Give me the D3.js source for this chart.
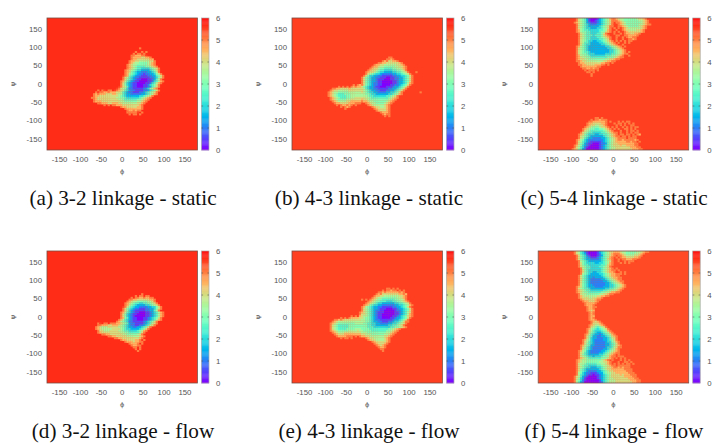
<!DOCTYPE html>
<html>
<head>
<meta charset="utf-8">
<script src="https://cdn.jsdelivr.net/npm/d3@7"></script>
<style>
  html, body { margin: 0; padding: 0; background: #fff; }
  .tick-label { font-family: "Liberation Sans", Arial, sans-serif; font-size: 7.8px; fill: #555; }
  .axis-name { font-family: "DejaVu Sans", sans-serif; font-size: 6.5px; fill: #555; }
  .caption { font-family: "Liberation Serif", "Times New Roman", serif; font-size: 21.2px; fill: #111; }
</style>
</head>
<body>
<svg id="chart" width="713" height="443"></svg>
<script>
'use strict';

var captions = [
  '(a) 3-2 linkage - static', '(b) 4-3 linkage - static', '(c) 5-4 linkage - static',
  '(d) 3-2 linkage - flow', '(e) 4-3 linkage - flow', '(f) 5-4 linkage - flow'
];
var phiTicks = [-150, -100, -50, 0, 50, 100, 150];
var psiTicks = [-150, -100, -50, 0, 50, 100, 150];
var barTicks = [0, 1, 2, 3, 4, 5, 6];

// free energy of the empty part of each map
var backgrounds = [5.66, 5.54, 5.52, 5.66, 5.52, 5.44];

// rows are "psi phi codes": first cell of the row, then one code per 5 degree cell.
// code 0-9,a,b = value * 2, '.' = empty cell. a psi can have more than one row
var gridA = [
  '95 40 a', '85 30 a..a.a', '80 25 a.aaba', '75 20 aa999aab', '70 20 a99998899a', '65 20 a9988888899',
  '60 15 a99887777788a', '55 15 a98776666789a', '50 10 a987766666789a', '45 10 a9876555566789a',
  '40 10 a98765544445678a', '35 5 a987654433334568a', '30 5 a986543322233457a', '25 5 a9765432212233468a',
  '20 0 ba96543221112233568a', '15 0 a875432211111223468a', '10 0 a86543211000112357a',
  '5 -5 a9754321100001124579a', '0 -5 a864321100001124579a', '-5 -5 a86432110001124568a',
  '-10 -10 ba87532110001123568a', '-15 -15 ba87642211111234679a',
  '-20 -60 a.ab.aa.b', '-20 -15 a987543221111223 4568a',
  '-25 -65 abaa99a999', '-25 -15 88754322111223456 78a',
  '-30 -70 a9a99988899', '-30 -15 87754332222233456 79a',
  '-35 -70 a9988888888', '-35 -15 8765433333344 5678a',
  '-40 -75 aa9888888888', '-40 -15 77665444444 56789a',
  '-45 -70 a9888888888', '-45 -15 877655555566789a',
  '-50 -70 a9998888888', '-50 -15 887766666677 89a',
  '-55 -60 aa9998899', '-55 -15 98877777778 89a',
  '-60 -45 a.a.aa9', '-60 -10 9988888888 9a', '-65 -5 a998888899a', '-70 5 a9999999a', '-75 10 a99a9aa', '-80 10 aaaaab.a', '-85 15 a.aa.a'
];

var gridB = [
  '70 50 aa', '65 45 aa9ab', '60 35 a9a8899a', '55 25 aa998888889a',
  '50 15 a9988777777889a', '45 10 a998776666677889a', '40 5 a9887665555667789a',
  '35 0 a9887655444455667 8a', '30 -5 a98876544333344556 78a', '25 -5 a8765443222223344 5678a',
  '20 -10 a86443322111112233 44568a', '15 -15 a8654332211100112233 4568a', '10 -15 a865433211100011223 34568a',
  '5 -15 a86543321100000112334568a', '0 -15 a86543221100000112334579a', '-5 -15 a8654322110000112234568a',
  '-5 -35 a.a9a', '-10 -70 a.aba.a9a99', '-10 -15 8654332110001112334568a',
  '-15 -85 aa998888988888', '-15 -15 87543322111112233 4568a',
  '-20 -90 a98877777888888', '-20 -15 876543322111223345 68a',
  '-25 -95 a987766666777777', '-25 -15 87654433222233445 68a',
  '-30 -95 a987655566677777', '-30 -15 77665443333334456 79a',
  '-35 -95 a987655556677777', '-35 -15 7776554444445567 8a',
  '-40 -90 a98765556677888', '-40 -15 8877655555555 6789a',
  '-45 -90 a98766667788888', '-45 -15 98876666666667 89a',
  '-50 -85 a9877778899999', '-50 -15 a9987766666678 9a',
  '-55 -80 a998888999aaa', '-55 -5 a98776666789a',
  '-60 -75 a.a99a9a.a', '-60 0 a98777778 9a',
  '-65 -65 a.a9a', '-65 10 a98877 89a', '-70 -55 a', '-70 15 a988889a',
  '-75 20 a988 89a', '-80 30 a999a', '-85 35 a9aa', '-90 40 a.a',
  '30 115 a', '-25 125 a'
];

var gridC = [
  '175 -95 ba87653100013456 78', '170 -95 ba8765310012 345678', '165 -95 a98765321112 345678',
  '160 -90 a8765432223345678a', '155 -90 a876543333345678a', '150 -90 a876544333445678a',
  '145 -90 a97655444445567 9a', '140 -90 a976655444456689a',
  '135 -85 a876 5 5 4 4 4 5 5 6 8a', '130 -85 a87 6 5 5 5 4 5 5 5 6 8 9a',
  '125 -85 a87 6 5 5 4 4 4 5 5 6 7 8 9 a', '120 -85 a8 7 6 5 5 4 4 4 4 5 5 6 7 8 a',
  '115 -85 a8 7 6 5 4 4 3 3 4 4 5 6 7 8 9 a', '110 -85 a8 7 5 5 4 3 3 3 3 4 4 5 6 7 8 9a',
  '105 -85 a8 6 5 4 4 3 3 3 3 3 4 4 5 6 7 8 9 a.ba', '100 -90 a9 7 6 5 4 3 3 3 3 3 3 3 3 4 4 5 6 7 8 9 a.a',
  '175 -10 9aa98776666667 889ab', '170 -5 aaa987666666677 89ab', '165 -5 a.aa9876666666789ab',
  '160 -5 ab.a9876666667789aa', '155 -5 a.baa98766666789a', '150 0 a.aba9877777789a',
  '145 0 .ab.a98877788 9a', '140 0 a.a.ba98888889a', '135 0 ab.a.a99889 9a',
  '130 0 .aa.baa9999a', '125 5 a.ba.a99aa', '120 5 ab.a.baa9a', '115 5 a.a.a.aa', '110 5 .ab.a.a',
  '95 -90 a8 7 6 5 4 3 3 3 3 3 3 3 3 3 4 4 5 6 7 8 9 a', '90 -90 a8 7 6 5 4 3 3 3 3 3 3 3 3 3 3 4 4 5 6 7 8 9 a',
  '85 -90 a8 7 6 5 5 4 3 3 3 3 3 3 3 3 3 4 4 5 6 7 8 9 a.a', '80 -90 a8 7 6 6 5 4 4 4 3 3 3 3 3 4 4 4 5 5 6 7 8 9 a a',
  '75 -90 a9 7 7 6 6 5 4 4 4 4 4 4 4 5 5 5 6 6 7 8 9 a b.a', '70 -90 a9 8 7 7 6 6 5 5 5 5 5 5 5 5 6 6 6 7 8 9 a a',
  '65 -90 a9 8 8 7 7 6 6 6 6 6 6 6 6 7 7 8 8 9 a a.b', '60 -90 aa9 8 8 7 7 7 7 7 7 7 7 8 8 9 9 a a.b',
  '55 -85 a9 9 8 8 8 8 8 8 8 8 9 9 a a.a', '50 -85 aa9 9 8 8 8 8 9 9 9 a a.a',
  '45 -80 a9 9 9 9 9 9 9 a a.b', '40 -75 aa9 9 a 9 a a', '35 -70 a.aa a.a',
  '30 -65 a a.a', '25 -55 a', '20 -55 a',
  '-95 -45 aa.a', '-100 -55 a.aa9aaa', '-105 -60 aa999999a.a', '-105 10 a.a.aa', '-110 -65 a9988 8899a.', '-110 0 a.aa.a.a.a',
  '-115 -65 a988 7 7 8 8 9 a', '-115 5 a.a.ab.aa', '-120 -70 a98 7 6 6 6 7 8 8 9 a', '-120 -5 a.a.ba.a.a.aa', '-125 -75 a98 7 6 6 5 5 6 6 7 8 9 a.a.ab.aa.a.ab',
  '-130 -75 a8 7 6 5 5 5 5 5 5 6 7 8 9 a.b.a.ba.aa.a', '-135 -80 a8 7 6 5 5 4 4 4 4 5 5 6 7 8 9 a a.ab.a.a.aa', '-140 -85 a9 8 6 5 4 4 4 3 3 4 4 5 5 6 7 8 9 a.aa.aa.a.a9',
  '-145 -85 a8 7 6 5 4 3 3 3 3 3 3 4 5 6 7 8 9 a a.a a.a.a a', '-150 -85 a8 7 5 4 3 3 2 2 2 2 3 3 4 5 6 7 8 9 a a a a.a a a a',
  '-155 -90 a9 7 6 4 3 2 2 2 2 2 2 2 3 4 5 6 7 8 9 a a 9 a a a a a 9 a', '-160 -90 a8 7 5 4 3 2 1 1 1 1 1 2 3 4 5 6 7 8 9 9 9 9 9 a a 9 a a.a',
  '-165 -90 a8 6 5 3 2 1 1 0 0 0 1 2 2 3 5 6 7 8 8 9 9 9 9 9 9 9 9 a a b', '-170 -95 a9 7 6 4 3 2 1 0 0 0 0 1 2 3 4 5 6 7 8 8 8 9 8 8 9 9 9 9 a a b',
  '-175 -95 a8 7 5 4 2 1 0 0 0 0 0 1 2 3 4 5 6 7 7 8 8 8 8 8 8 8 9 9 9 a a', '-180 -100 a9 8 6 5 3 2 0 0 0 0 0 0 1 2 3 4 5 6 7 7 8 8 8 8 8 8 8 8 9 9 9 a a b'
];

var gridD = [
  '60 45 a', '55 30 a.aa.aa', '50 20 a.aa99a99aa', '45 15 aa9988888 899a', '40 10 a987766666778a',
  '35 5 a9876554455 6678a', '30 5 a976543333 445 678a', '25 0 ba865433222 23344 6 8a',
  '20 0 a86543221112 2334 6 8a', '15 0 a8643211111 2233 5 7a', '10 -5 a97543211000 11234 5 7 9a',
  '5 -5 a86432110000 1123 4 5 7 9a', '0 -5 a86432100000 1123 4 5 7 9a', '-5 -5 a9653211000 11234 5 6 8a',
  '-10 -10 a97543 2 1 1 0 0 0 1 1 2 3 4 5 7 9 a', '-15 -15 a976 5 4 2 2 1 1 1 1 1 2 3 4 5 6 8 a',
  '-20 -60 ab.aa.aaa99 8 7 6 5 3 2 2 1 1 1 1 2 3 4 5 7 8 a', '-25 -60 aa99988999 8 7 6 5 4 3 2 2 1 1 2 2 3 4 5 7 8 a',
  '-30 -65 a9877788 8 8 8 7 7 6 5 4 3 3 2 2 3 3 4 5 6 8 a', '-35 -65 a9877777 8 8 8 8 7 6 5 4 4 3 3 3 3 4 5 6 8 a',
  '-40 -60 a8877788 8 8 7 7 6 5 5 4 4 4 4 5 6 7 9 a', '-45 -60 a9888888 8 8 8 7 7 6 6 5 5 5 5 5 6 8 a',
  '-50 -50 aa9 9 8 8 8 8 8 8 7 7 6 6 6 6 6 7 8 a', '-55 -35 aa9 9 8 8 8 8 8 7 7 7 7 7 7 8 9 a',
  '-60 -20 aa9 9 8 8 8 8 8 8 8 8 9 a', '-65 -5 a9 9 8 8 8 8 9 9 a.a', '-70 5 a9 9 9 8 9 9 a a',
  '-75 15 a9 9 9 a.a', '-80 20 a9 9 a a', '-85 25 a a.a', '-90 30 a.a', '-95 35 a'
];

var gridE = [
  '75 45 aa.a.a', '70 35 a.aa9aa.a.a', '65 25 aa9a999999a9a', '60 20 a9a8888888899a9',
  '55 15 a99887777777889a', '50 10 a98776666666778 9a', '45 5 a9876655555566778a', '45 -15 a.a',
  '40 0 a987665554445566789a', '35 -5 a98765443333334455678a', '30 -10 a98654433222222334 4567 9a',
  '25 -15 a97654332211111223345 68a', '20 -15 a87654332111000112334 568a', '15 -15 a8765432211000001223 4568a',
  '10 -20 a98765432111000001123 4578a', '5 -20 a88765432110000001123 4579a', '0 -40 a.a.a9', '0 -20 98776543211000001123 45689a',
  '-5 -65 a.aba9999', '-5 -20 88766543211000011233 4568a',
  '-10 -80 aa9a98888888', '-10 -20 877665432211111123 34568a',
  '-15 -85 a987777777777', '-15 -20 7776654332211122344 568aa',
  '-20 -90 a9876666666677', '-20 -20 7766554433222233445 678a',
  '-25 -90 a8765555566666', '-25 -20 6666554433333344556 78a',
  '-30 -90 a8765555566666', '-30 -20 666655544444444 55667 89a',
  '-35 -90 a8765555666677', '-35 -20 76666555555555667 89a',
  '-40 -90 a9876666677778', '-40 -20 77666655555556678 9a',
  '-45 -85 a987778888888', '-45 -20 877766666666 67789a',
  '-50 -80 a98889999999', '-50 -20 98877766666677 89a',
  '-55 -75 a9999aaa.a.a', '-55 -15 998877777778 89a',
  '-60 -65 a.aa.a', '-60 -5 a98877777 89a', '-65 0 a9887777 89a', '-70 10 a988888 9a',
  '-75 15 a98889a', '-80 20 a989a', '-85 25 a99a', '-90 30 aa', '-95 35 a'
];

var gridF = [
  '175 -95 a8 7 5 4 2 1 0 0 0 0 1 3 4 5 6 7 8 8 9 9 9 8 7 7 6 6 6 6 6 7 7 8 9 a a',
  '170 -95 a8 7 5 4 3 1 0 0 0 0 1 2 4 5 6 7 8 9 a a a 9 8 7 6 6 6 6 7 7 8 9 a',
  '165 -90 a8 6 5 4 2 1 0 0 0 1 2 3 5 6 7 8 9 a.a a 9 8 7 7 7 7 8 8 9 a b',
  '160 -90 a8 6 5 4 3 2 1 1 1 2 3 4 5 6 7 9 a.a.a 9 9 8 8 8 8 9 9 a',
  '155 -90 a8 6 5 4 3 3 2 2 2 2 3 4 5 6 8 9 a..a.a a 9 9 9 a a',
  '150 -85 a7 6 5 4 3 3 3 3 3 3 4 5 6 7 8 a..ab.a.a a a b',
  '145 -85 a8 6 5 4 4 4 4 3 3 4 4 5 6 7 9 a...a.a.a',
  '140 -85 a8 6 5 5 4 4 4 4 4 4 5 5 6 8 9 a',
  '135 -85 a8 7 6 5 5 4 4 4 4 5 5 6 7 8 a',
  '130 -80 a7 6 5 5 4 4 4 4 4 5 6 7 8 9 a.a',
  '125 -80 a8 6 5 4 4 4 4 4 4 5 6 7 8 9 a a.a',
  '120 -80 a8 6 5 4 4 3 3 4 4 5 6 7 8 9 9 a b.a.a',
  '115 -80 a7 6 5 4 3 3 3 3 4 4 5 6 7 8 9 9 a a a.a',
  '110 -85 a8 6 5 4 3 3 3 3 3 3 4 5 6 7 8 9 9 a a',
  '105 -85 a8 6 5 4 3 3 2 3 3 3 3 4 5 6 7 8 9 9 a a',
  '100 -85 a8 6 5 4 3 2 2 2 2 2 3 3 4 5 6 7 8 9 a a',
  '95 -85 a8 6 5 4 3 2 2 2 2 2 2 3 3 4 5 6 7 8 9 a a',
  '90 -85 a8 6 5 4 3 2 2 2 2 2 2 2 3 3 4 5 6 7 8 9 a',
  '85 -85 a8 6 5 4 3 3 2 2 2 2 2 2 3 3 4 4 5 6 7 8 9 a',
  '80 -90 a9 8 6 5 4 3 3 3 2 2 2 2 3 3 3 4 4 5 6 7 8 9 a',
  '75 -90 a8 7 6 5 5 4 3 3 3 3 3 3 3 4 4 5 5 6 7 8 9 a',
  '70 -90 a9 8 7 6 5 5 4 4 4 4 4 4 5 5 6 6 7 7 8 9 a',
  '65 -90 a9 8 7 6 6 5 5 5 5 5 5 6 6 7 7 8 9 9 a a',
  '60 -85 a8 7 7 6 6 6 6 6 6 7 7 8 8 9 a a',
  '55 -85 a9 8 7 7 7 7 7 7 8 8 9 9 a a',
  '50 -85 a9 8 8 8 7 7 8 8 9 9 a',
  '45 -80 a9 8 8 8 8 8 9 a a',
  '40 -75 a9 9 8 8 8 9 a',
  '35 -70 a9 9 9 9 a',
  '30 -70 a9 9 9 a',
  '25 -65 a9 9 a a',
  '20 -65 a9 9 a',
  '15 -65 a9 8 9',
  '10 -60 a9 a',
  '5 -60 a9 a',
  '0 -60 a9 9',
  '-5 -60 a9 a',
  '-10 -60 a9 9 a',
  '-15 -55 a9 8 9 a',
  '-20 -55 a8 8 8 9 a',
  '-25 -60 a9 8 7 7 8 9 a',
  '-30 -60 a8 7 6 5 6 7 8 a',
  '-35 -65 a9 7 6 5 4 5 6 7 8 a',
  '-40 -65 a8 7 5 4 4 4 5 6 7 9 a',
  '-45 -65 a8 6 5 4 3 3 4 5 6 7 9 a',
  '-50 -70 a9 7 5 4 3 3 2 3 4 5 6 7 9 a',
  '-55 -70 a8 6 5 3 3 2 2 3 3 4 5 6 8 9 a',
  '-60 -70 a8 6 4 3 3 2 2 2 3 3 4 5 7 8 a',
  '-65 -75 a9 7 6 4 3 2 2 2 2 3 3 4 5 6 8 a',
  '-70 -75 a8 7 5 4 3 2 2 2 2 2 3 4 4 6 7 9 a',
  '-75 -75 a8 6 5 4 3 2 2 2 2 2 3 3 4 5 6 8 a',
  '-80 -80 a9 7 6 5 3 3 2 2 2 2 2 3 3 4 5 6 8 9 a',
  '-85 -80 a8 7 5 4 3 2 2 2 2 2 2 3 4 4 5 7 8 a a',
  '-90 -80 a8 6 5 4 3 2 2 2 2 2 3 3 4 5 6 7 9 a',
  '-95 -85 a9 7 6 4 3 2 2 2 2 2 3 3 4 5 6 7 8 9 a',
  '-100 -85 a8 7 5 4 3 2 2 2 2 3 3 4 5 6 7 8 9 a a',
  '-105 -85 a8 6 5 4 3 3 3 3 3 4 4 5 6 7 8 9 a.a',
  '-110 -85 a8 7 6 5 4 4 3 4 4 4 5 6 6 7 9 a a.a a a',
  '-115 -85 a9 8 7 6 5 5 5 5 5 5 6 6 7 8 9 a.a b a.a',
  '-120 -90 a9 8 7 7 6 6 6 6 6 6 6 7 8 9 a.a.b.a.a.a',
  '-125 -90 a9 8 7 7 6 6 6 6 6 6 7 7 8 8 9 a.b.a b.a a.a',
  '-130 -90 a8 7 7 6 5 5 5 5 5 6 6 7 7 8 9 a.a.a.a.a a.a',
  '-135 -90 a8 7 6 5 5 4 4 4 4 5 5 6 7 7 8 9 a a.a a a a a a',
  '-140 -90 a8 7 6 5 4 4 3 3 3 4 4 5 6 7 8 8 9 a a 9 a 9 a a a',
  '-145 -90 a8 6 5 4 3 3 3 3 3 3 4 5 6 7 8 8 9 9 9 9 9 9 a a a a',
  '-150 -90 a8 6 5 4 3 2 2 2 2 3 3 4 5 6 7 8 8 9 9 9 9 9 9 a a a',
  '-155 -90 a7 6 4 3 2 2 1 1 1 2 3 3 5 6 7 7 8 8 9 9 9 9 9 9 a a a',
  '-160 -90 a7 5 4 3 2 1 1 0 1 1 2 3 4 5 6 7 8 8 8 8 9 8 9 9 9 a a a',
  '-165 -95 a8 7 5 3 2 1 0 0 0 0 1 2 3 4 5 6 7 8 8 8 8 8 8 9 9 9 9 a a',
  '-170 -95 a8 6 4 3 1 0 0 0 0 0 1 2 3 4 5 6 7 7 8 8 8 8 8 8 8 9 9 9 a a',
  '-175 -95 a7 6 4 2 1 0 0 0 0 0 0 1 3 4 5 6 7 7 7 8 8 8 8 8 8 8 9 9 9 a a',
  '-180 -95 a7 5 3 2 0 0 0 0 0 0 0 1 2 4 5 6 7 7 7 8 8 8 8 8 8 8 8 9 9 a a'
];

var grids = [gridA, gridB, gridC, gridD, gridE, gridF];

var cellStep = 5;
var panelW = 150.5, panelH = 132;
var lefts = [47, 292, 538.2];
var tops = [18, 251];
var captionX = [123, 369, 614];
var captionY = [205, 438];

// same formula as gnuplot's default rainbow palette (33,13,10)
function rainbow(v) {
  var t = Math.max(0, Math.min(1, v / 6));
  return d3.rgb(
    Math.min(255, 255 * Math.abs(2 * t - 0.5)),
    255 * Math.sin(Math.PI * t),
    255 * Math.cos(Math.PI * t / 2)
  ).formatRgb();
}

function parseRows(rows) {
  var cells = [];
  rows.forEach(function(row) {
    var parts = row.split(' ');
    var psi = +parts[0], phi = +parts[1], codes = parts.slice(2).join('');
    codes.split('').forEach(function(c, i) {
      if (c === '.') return;
      cells.push({ phi: phi + i * cellStep, psi: psi, value: parseInt(c, 16) / 2 });
    });
  });
  return cells;
}

var svg = d3.select('#chart');
var defs = svg.append('defs');
defs.append('filter').attr('id', 'soft')
  .attr('x', '-5%').attr('y', '-5%').attr('width', '110%').attr('height', '110%')
  .append('feGaussianBlur').attr('stdDeviation', 0.55);

grids.forEach(function(rows, idx) {
  var col = idx % 3, row = Math.floor(idx / 3);
  var left = lefts[col], top = tops[row];

  var x = d3.scaleLinear().domain([-180, 180]).range([left, left + panelW]);
  var y = d3.scaleLinear().domain([-180, 180]).range([top + panelH, top]);
  var bar = d3.scaleLinear().domain([0, 6]).range([top + panelH, top]);

  defs.append('clipPath').attr('id', 'clip' + idx)
    .append('rect').attr('x', left).attr('y', top).attr('width', panelW).attr('height', panelH);

  var g = svg.append('g').attr('clip-path', 'url(#clip' + idx + ')');
  g.append('rect')
    .attr('x', left).attr('y', top).attr('width', panelW).attr('height', panelH)
    .attr('fill', rainbow(backgrounds[idx]));

  g.append('g').attr('filter', 'url(#soft)')
    .selectAll('rect')
    .data(parseRows(rows))
    .enter()
    .append('rect')
    .attr('x', function(d) { return x(d.phi); })
    .attr('y', function(d) { return y(d.psi + cellStep); })
    .attr('width', x(cellStep) - x(0) + 0.2)
    .attr('height', y(0) - y(cellStep) + 0.2)
    .attr('fill', function(d) { return rainbow(d.value); });

  svg.append('rect')
    .attr('x', left).attr('y', top).attr('width', panelW).attr('height', panelH)
    .attr('fill', 'none').attr('stroke', '#7a4a40').attr('stroke-width', 0.8);

  svg.selectAll(null).data(phiTicks).enter().append('text')
    .attr('class', 'tick-label')
    .attr('x', function(d) { return x(d); })
    .attr('y', top + panelH + 11.5)
    .attr('text-anchor', 'middle')
    .text(function(d) { return d; });

  svg.selectAll(null).data(psiTicks).enter().append('text')
    .attr('class', 'tick-label')
    .attr('x', left - 5)
    .attr('y', function(d) { return y(d) + 2.8; })
    .attr('text-anchor', 'end')
    .text(function(d) { return d; });

  svg.append('text').attr('class', 'axis-name')
    .attr('x', x(0)).attr('y', top + panelH + 23.5)
    .attr('text-anchor', 'middle').text('ϕ');

  svg.append('text').attr('class', 'axis-name')
    .attr('transform', 'translate(' + (left - 32) + ',' + y(0) + ') rotate(-90)')
    .attr('text-anchor', 'middle').text('ψ');

  // colour bar
  var barX = left + panelW + 4, barW = 7.5;
  svg.append('g').selectAll('rect')
    .data(d3.range(0, 6, 0.05))
    .enter()
    .append('rect')
    .attr('x', barX)
    .attr('y', function(d) { return bar(d + 0.05); })
    .attr('width', barW)
    .attr('height', bar(0) - bar(0.05) + 0.3)
    .attr('fill', function(d) { return rainbow(d); });

  svg.append('rect')
    .attr('x', barX).attr('y', top).attr('width', barW).attr('height', panelH)
    .attr('fill', 'none').attr('stroke', '#aaa').attr('stroke-width', 0.7);

  svg.selectAll(null).data(barTicks.slice(1, 6)).enter().append('path')
    .attr('d', function(d) {
      return 'M' + barX + ',' + bar(d) + 'h1.6M' + (barX + barW) + ',' + bar(d) + 'h-1.6';
    })
    .attr('stroke', '#555').attr('stroke-width', 0.6);

  svg.selectAll(null).data(barTicks).enter().append('text')
    .attr('class', 'tick-label')
    .attr('x', barX + barW + 7)
    .attr('y', function(d) { return bar(d) + 2.8; })
    .text(function(d) { return d; });

  svg.append('text').attr('class', 'caption')
    .attr('x', captionX[col]).attr('y', captionY[row])
    .attr('text-anchor', 'middle')
    .text(captions[idx]);
});
</script>
</body>
</html>
